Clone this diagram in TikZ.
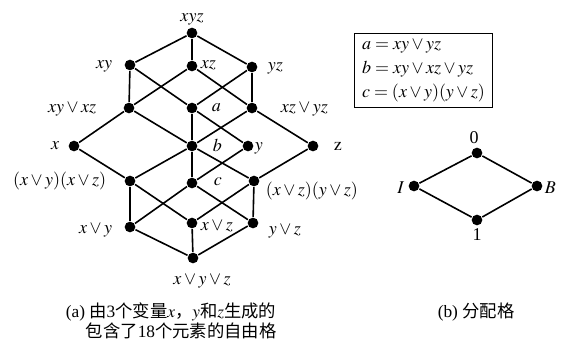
\documentclass[tikz,border=0pt]{standalone}
\usepackage{mathptmx}
\usepackage[no-math]{fontspec}
\setmainfont{Liberation Serif}
\newfontfamily\cjk{Noto Sans CJK SC}

\begin{document}
\begin{tikzpicture}[x=0.75pt, y=-0.75pt, line width=1.2pt,
  dot/.style={circle, fill, inner sep=0pt, minimum size=8pt},
  lbl/.style={inner sep=0pt, font=\fontsize{13.5}{16}\selectfont},
  captxt/.style={inner sep=0pt, anchor=west, font=\fontsize{13}{16}\selectfont}]
  \useasboundingbox (0,0) rectangle (562,340);
  % (a) free lattice
  \node[dot] (xyz)   at (192,33)  {};
  \node[dot] (xy)    at (130,65)  {};
  \node[dot] (xz)    at (192,66)  {};
  \node[dot] (yz)    at (252,67)  {};
  \node[dot] (xyxz)  at (129,108) {};
  \node[dot] (a)     at (192,108) {};
  \node[dot] (xzyz)  at (252,108) {};
  \node[dot] (x)     at (74,146)  {};
  \node[dot] (b)     at (192,146) {};
  \node[dot] (y)     at (248,146) {};
  \node[dot] (z)     at (313,146) {};
  \node[dot] (xx)    at (130,181) {};
  \node[dot] (c)     at (192,183) {};
  \node[dot] (zz)    at (254,181) {};
  \node[dot] (xoy)   at (130,227) {};
  \node[dot] (xoz)   at (192,223) {};
  \node[dot] (yoz)   at (253,223) {};
  \node[dot] (xoyoz) at (193,258) {};
  \draw (xy) -- (xyz) -- (yz);
  \draw (xyz) -- (xz);
  \draw (xy) -- (xyxz) -- (x) -- (xx) -- (xoy) -- (xoyoz) -- (yoz) -- (zz) -- (z) -- (xzyz) -- (yz);
  \draw (xz) -- (xyxz) -- (b) -- (zz) -- (xoz) -- (xx) -- (b) -- (xzyz) -- (xz);
  \draw (xy) -- (a) -- (y) -- (c) -- (xoy);
  \draw (yz) -- (a) -- (b) -- (c) -- (yoz);
  \draw (xoz) -- (xoyoz);
  \node[lbl] (lxyz) at (192,19) {$xyz$};
  \node[lbl, anchor=east] (lxy) at (113,66) {$xy$};
  \node[lbl, anchor=west] (lxz) at (200,65) {$xz$};
  \node[lbl, anchor=west] (lyz) at (267,68) {$yz$};
  \node[lbl, anchor=east] (lxyxz) at (97,109) {$xy\vee xz$};
  \node[lbl, anchor=west] (la) at (211,108) {$a$};
  \node[lbl, anchor=west] (lxzyz) at (280,109) {$xz\vee yz$};
  \node[lbl, anchor=east] (lx) at (60,146) {$x$};
  \node[lbl, anchor=west] (lb) at (212,145) {$b$};
  \node[lbl, anchor=west] (ly) at (254,148) {$y$};
  \node[lbl, anchor=west] (lz) at (333,146) {$\mathrm{z}$};
  \node[lbl, anchor=east] (lxx) at (107,181) {$(x\vee y)(x\vee z)$};
  \node[lbl, anchor=west] (lc) at (213,182) {$c$};
  \node[lbl, anchor=west] (lzz) at (265,191) {$(x\vee z)(y\vee z)$};
  \node[lbl, anchor=east] (lxoy) at (113,230) {$x\vee y$};
  \node[lbl, anchor=west] (lxoz) at (200,226) {$x\vee z$};
  \node[lbl, anchor=west] (lyoz) at (268,231) {$y\vee z$};
  \node[lbl] (lxoyoz) at (202,281) {$x\vee y\vee z$};
  % definitions box
  \node[draw, line width=0.75pt, align=left, minimum width=104pt, minimum height=56pt,
    inner sep=0pt, font=\fontsize{13.5}{18}\selectfont] (defs) at (423.5,70.5)
    {$a=xy\vee yz$\\ $b=xy\vee xz\vee yz$\\ $c=(x\vee y)(y\vee z)$};
  % (b) distributive lattice
  \node[dot] (n0) at (477,153) {};
  \node[dot] (nI) at (414,186) {};
  \node[dot] (nB) at (537,186) {};
  \node[dot] (n1) at (477,220) {};
  \draw (n0) -- (nI) -- (n1) -- (nB) -- (n0);
  \node[lbl] (l0) at (474,138) {0};
  \node[lbl, anchor=east] (lI) at (405,188) {$I$};
  \node[lbl, anchor=west] (lB) at (544,188) {$B$};
  \node[lbl] (l1) at (477,235) {1};
  % captions
  \node[captxt] (capa) at (65,312) {(a) {\cjk 由}3{\cjk 个变量}$x${\cjk ，}$y${\cjk 和}$z${\cjk 生成的}};
  \node[captxt] (capa2) at (85,331) {{\cjk 包含了}18{\cjk 个元素的自由格}};
  \node[captxt] (capb) at (437,312) {(b) {\cjk 分配格}};
\end{tikzpicture}
\end{document}
